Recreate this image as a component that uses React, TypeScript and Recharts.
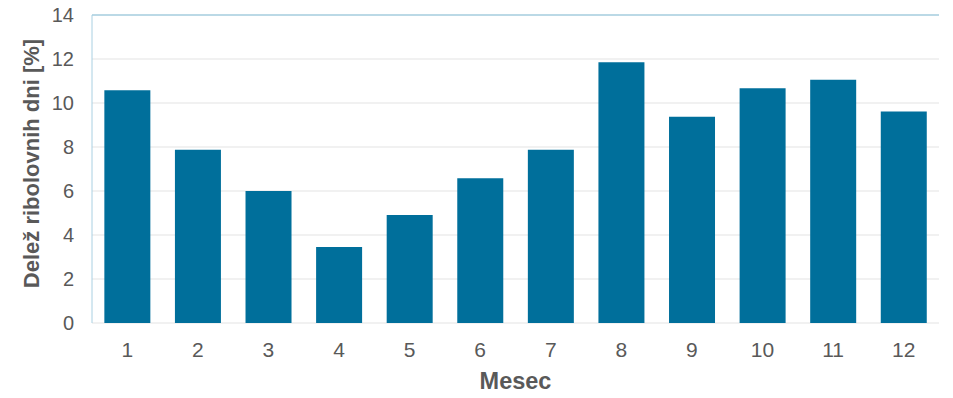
import React from 'react';
import { BarChart, Bar, XAxis, YAxis, CartesianGrid, ReferenceLine } from 'recharts';

const months = ['1', '2', '3', '4', '5', '6', '7', '8', '9', '10', '11', '12'];
const shares = [10.58, 7.88, 6.0, 3.45, 4.91, 6.58, 7.88, 11.85, 9.38, 10.67, 11.06, 9.61];
const yTicks = [0, 2, 4, 6, 8, 10, 12, 14];

const data = months.map((m, i) => ({ month: m, share: shares[i] }));

const FONT = '"Liberation Sans", Arial, sans-serif';
const TEXT = '#595959';
const BORDER = '#a9d0e2';

const YTitle = (props: any) => {
  const vb = props.viewBox || {};
  const x = 38.5;
  const y = (vb.y || 0) + (vb.height || 0) / 2 - 5.5;
  return (
    <text
      x={x}
      y={y}
      transform={`rotate(-90 ${x} ${y})`}
      textAnchor="middle"
      fill={TEXT}
      fontSize={22}
      fontWeight="bold"
      fontFamily={FONT}
    >
      Delež ribolovnih dni [%]
    </text>
  );
};

const XTitle = (props: any) => {
  const vb = props.viewBox || {};
  const x = (vb.x || 0) + (vb.width || 0) / 2;
  return (
    <text x={x} y={388.5} textAnchor="middle" fill={TEXT} fontSize={23.5} fontWeight="bold" fontFamily={FONT}>
      Mesec
    </text>
  );
};

export default function App() {
  return (
    <div style={{ position: 'absolute', left: 0, top: 0, width: 953, height: 398, background: '#fff' }}>
      <BarChart
        width={953}
        height={398}
        data={data}
        margin={{ top: 15, right: 14, left: 0, bottom: 0 }}
        barCategoryGap="17.5%"
        style={{ fontFamily: FONT }}
      >
        <CartesianGrid vertical={false} stroke="#e3e3e3" strokeWidth={1} yAxisId="left" />
        <XAxis
          dataKey="month"
          axisLine={false}
          tickLine={false}
          height={75}
          tickMargin={13}
          tick={{ fill: TEXT, fontSize: 21, fontFamily: FONT }}
          interval={0}
          label={{ content: XTitle }}
        />
        <YAxis
          yAxisId="left"
          width={92}
          domain={[0, 14]}
          ticks={yTicks}
          interval={0}
          axisLine={{ stroke: BORDER, strokeWidth: 1 }}
          tickLine={false}
          tickMargin={12}
          tick={{ fill: TEXT, fontSize: 20, fontFamily: FONT }}
          label={{ content: YTitle }}
        />
        <YAxis
          yAxisId="right"
          orientation="right"
          width={0}
          domain={[0, 14]}
          ticks={yTicks}
          tick={false}
          tickLine={false}
          axisLine={{ stroke: BORDER, strokeWidth: 1.5 }}
        />
        <ReferenceLine yAxisId="left" y={14} stroke={BORDER} strokeWidth={1.5} />
        <Bar yAxisId="left" dataKey="share" fill="#006f9b" isAnimationActive={false} />
      </BarChart>
    </div>
  );
}
